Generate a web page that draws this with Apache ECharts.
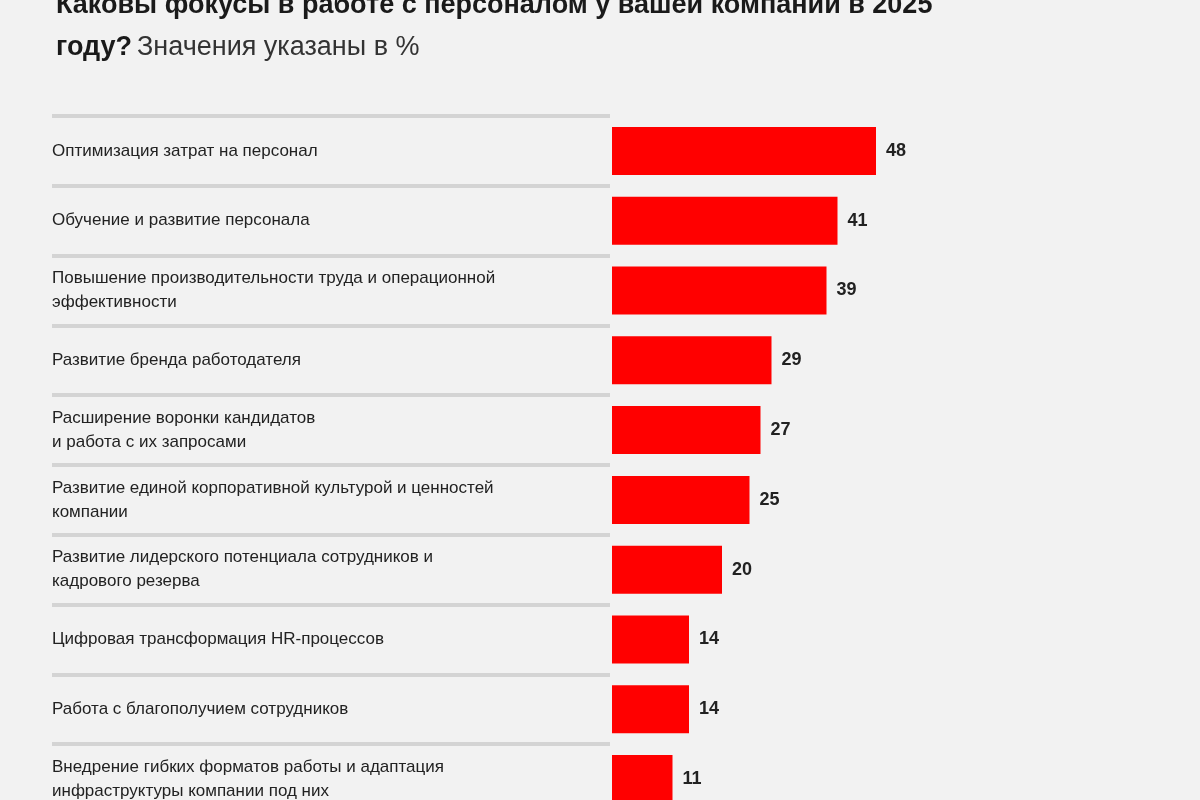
<!DOCTYPE html>
<html><head><meta charset="utf-8">
<script src="https://cdn.jsdelivr.net/npm/echarts@6/dist/echarts.min.js"></script>
<style>html,body{margin:0;background:#f2f2f2;overflow:hidden}#c{width:1200px;height:830px}</style>
</head><body><div id="c"></div>
<script>
const categories = [
 "Оптимизация затрат на персонал",
 "Обучение и развитие персонала",
 "Повышение производительности труда и операционной\nэффективности",
 "Развитие бренда работодателя",
 "Расширение воронки кандидатов\nи работа с их запросами",
 "Развитие единой корпоративной культурой и ценностей\nкомпании",
 "Развитие лидерского потенциала сотрудников и\nкадрового резерва",
 "Цифровая трансформация HR-процессов",
 "Работа с благополучием сотрудников",
 "Внедрение гибких форматов работы и адаптация\nинфраструктуры компании под них"
];
const values = [48, 41, 39, 29, 27, 25, 20, 14, 14, 11];

const chart = echarts.init(document.getElementById('c'));
const ff = 'Liberation Sans, Arial, sans-serif';
chart.setOption({
  backgroundColor: '#f2f2f2',
  animation: false,
  title: {
    left: 51, top: -20,
    text: '{b|Каковы фокусы в работе с персоналом у вашей компании в 2025}\n{b|году?} {n|Значения указаны в %}',
    textStyle: { rich: {
      b: { fontFamily: ff, fontSize: 27, fontWeight: 'bold', color: '#1a1a1a', lineHeight: 42 },
      n: { fontFamily: ff, fontSize: 27, fontWeight: 'normal', color: '#333', lineHeight: 42 }
    } }
  },
  grid: [
    { left: 612, width: 550, top: 116, height: 698 },
    { left: 52, width: 558, top: 116, height: 698 }
  ],
  xAxis: [
    { gridIndex: 0, type: 'value', min: 0, max: 100, show: false },
    { gridIndex: 1, type: 'value', min: 0, max: 1, show: false }
  ],
  yAxis: [
    { gridIndex: 0, type: 'category', data: categories, inverse: true,
      axisLine: { show: false }, axisTick: { show: false },
      axisLabel: { align: 'left', margin: 560, fontFamily: ff, fontSize: 17, color: '#222', lineHeight: 24 } },
    { gridIndex: 1, type: 'category', data: categories, inverse: true,
      axisLine: { show: false }, axisTick: { show: false }, axisLabel: { show: false },
      splitLine: { show: true, lineStyle: { color: '#d4d4d4', width: 4 } } }
  ],
  series: [{
    type: 'bar', data: values, barWidth: 48,
    itemStyle: { color: '#ff0000' },
    label: { show: true, position: 'right', distance: 10, fontFamily: ff, fontSize: 18, fontWeight: 'bold', color: '#222' }
  }]
});
</script></body></html>
